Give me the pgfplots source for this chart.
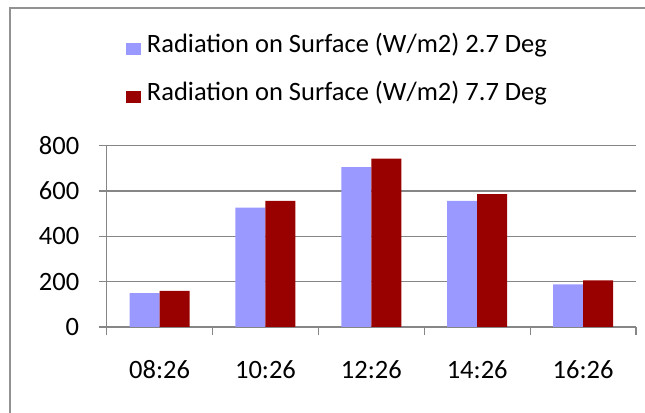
\documentclass[border=0pt]{standalone}
\usepackage{fontspec}
\setmainfont{Carlito}
\usepackage{pgfplots}
\pgfplotsset{compat=1.18}
\definecolor{barblue}{HTML}{9999FF}
\definecolor{barred}{HTML}{990000}
\definecolor{gridgray}{HTML}{868686}
\begin{document}
\begin{tikzpicture}
\path[use as bounding box] (-106.7bp,-86bp) rectangle (538.3bp,327bp);
\draw[gridgray!90, line width=1.5bp] (-96.7bp,-86bp) -- (-96.7bp,319bp) -- (538.3bp,319bp);
\begin{axis}[
  at={(0,0)}, anchor=south west,
  scale only axis, width=529.3bp, height=181.3bp,
  ybar=0pt, bar width=30bp,
  xmin=-0.5, xmax=4.5, ymin=0, ymax=800,
  xtick={-0.5,0.5,...,4.5}, x tick label as interval,
  xticklabels={08:26,10:26,12:26,14:26,16:26},
  ytick={0,200,...,800},
  ymajorgrids, grid style={gridgray, line width=1.2bp},
  axis lines*=left, axis line style={gridgray, line width=1.2bp, -},
  tick style={gridgray, line width=1.2bp}, tick align=outside, major tick length=8bp,
  font=\fontsize{26.5bp}{32bp}\selectfont,
  /pgf/number format/assume math mode=true,
  xticklabel style={yshift=-22bp},
  yticklabel style={xshift=-16bp},
  legend style={at={(axis description cs:0.036,1.64)}, anchor=north west, draw=none, fill=none,
    inner sep=0pt, row sep=21bp, nodes={inner sep=3bp}},
  legend cell align=left,
]
\addplot[fill=barblue, draw=none, legend image code/.code={\fill[barblue] (0bp,-12bp) rectangle (15bp,0bp);}]
  coordinates {(0,150) (1,527) (2,705) (3,557) (4,188)};
\addplot[fill=barred, draw=none, legend image code/.code={\fill[barred] (0bp,-12bp) rectangle (15bp,0bp);}]
  coordinates {(0,159) (1,557) (2,743) (3,586) (4,206)};
\legend{\hspace{3bp}Radiation on Surface (W/m2) 2.7 Deg, \hspace{3bp}Radiation on Surface (W/m2) 7.7 Deg}
\end{axis}
\end{tikzpicture}
\end{document}
